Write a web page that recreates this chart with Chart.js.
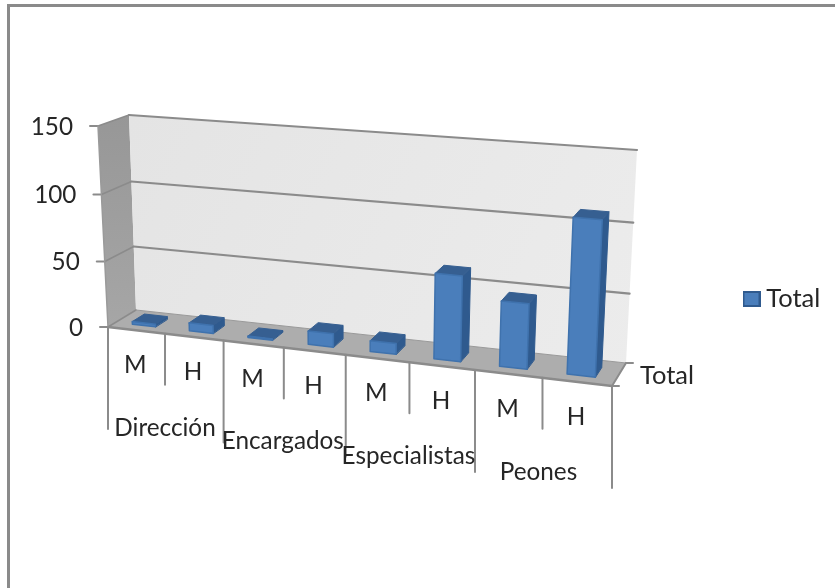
<!DOCTYPE html>
<html>
<head>
<meta charset="utf-8">
<style>html,body{margin:0;padding:0;background:#fff}#wrap{width:835px;height:588px}canvas{display:block}</style>
<script src="https://cdn.jsdelivr.net/npm/chart.js@4"></script>
</head>
<body>
<div id="wrap"><canvas id="c" width="835" height="588"></canvas></div>
<script>
const categories = ['M','H','M','H','M','H','M','H'];
const groupLabels = ['Dirección','Encargados','Especialistas','Peones'];
const totalValues = [2,6,1,10,8,62,47,110];
const seriesName = 'Total';
const yMax = 150, yStep = 50;

const FONT = '24.3px Lato';
const FONT_TOTAL = '25.5px Lato';
const TEXT = '#262626';
const AXIS = '#8b8b8b';
const groupNudge = [0,-1,-1,-4];
const corners = {
  flb:[108,327], flt:[98,126], blb:[136,310], blt:[129,115],
  frb:[612,386], frt:[622,167], brb:[626,363], brt:[637,150]
};
const persp = (t,r)=>t/(t+r*(1-t));
function P(u,v,d){
  const U=persp(u,1.12), V=persp(v,1.035);
  const mix=(a,b,t)=>[a[0]+(b[0]-a[0])*t,a[1]+(b[1]-a[1])*t];
  const c=corners;
  const fb=mix(c.flb,c.frb,U), ft=mix(c.flt,c.frt,U), bb=mix(c.blb,c.brb,U), bt=mix(c.blt,c.brt,U);
  return mix(mix(fb,ft,V),mix(bb,bt,V),d);
}
function poly(ctx,pts,fill,stroke,lw){
  ctx.beginPath();pts.forEach((p,i)=>i?ctx.lineTo(p[0],p[1]):ctx.moveTo(p[0],p[1]));ctx.closePath();
  if(fill){ctx.fillStyle=fill;ctx.fill();}
  if(stroke){ctx.strokeStyle=stroke;ctx.lineWidth=lw||1;ctx.lineJoin='round';ctx.stroke();}
}
function seg(ctx,a,b,col,lw){ctx.beginPath();ctx.moveTo(a[0],a[1]);ctx.lineTo(b[0],b[1]);ctx.strokeStyle=col;ctx.lineWidth=lw;ctx.stroke();}

// legend swatch
const swatch=document.createElement('canvas');swatch.width=18;swatch.height=16;
(function(){const s=swatch.getContext('2d');
  s.fillStyle='#4a7ebb';s.fillRect(1,1,16,14);
  s.strokeStyle='#2f5a8e';s.lineWidth=2;s.strokeRect(1,1,16,14);
})();

const scene3d = {
  id:'scene3d',
  afterLayout(chart){
    const l=chart.legend; const w=l.width,h=l.height;
    l.left=739.5;l.right=739.5+w;l.top=299-h/2;l.bottom=299+h/2;
  },
  beforeDraw(chart){
    const ctx=chart.ctx;
    ctx.save();
    ctx.fillStyle='#fff';ctx.fillRect(0,0,chart.width,chart.height);
    ctx.fillStyle='#8a8a8a';ctx.fillRect(8,4,chart.width-8,3);ctx.fillRect(7,4,3,chart.height-4);
    ctx.restore();
  },
  beforeDatasetsDraw(chart){
    const ctx=chart.ctx, ya=chart.scales.y, xa=chart.scales.x, area=chart.chartArea;
    const vOf=val=>(area.bottom-ya.getPixelForValue(val))/(area.bottom-area.top);
    ctx.save();
    // walls and floor
    const g=ctx.createLinearGradient(0,115,0,327);g.addColorStop(0,'#979797');g.addColorStop(1,'#a6a6a6');
    poly(ctx,[P(0,0,0),P(0,1,0),P(0,1,1),P(0,0,1)],g);
    const b=ctx.createLinearGradient(130,115,637,363);b.addColorStop(0,'#e4e4e4');b.addColorStop(1,'#ececec');
    poly(ctx,[P(0,0,1),P(0,1,1),P(1,1,1),P(1,0,1)],b);
    poly(ctx,[P(0,0,0),P(0,0,1),P(1,0,1),P(1,0,0)],'#adadad');
    // gridlines and value ticks
    ctx.lineCap='round';
    ya.ticks.forEach(t=>{
      const v=vOf(t.value);
      if(t.value>0) seg(ctx,P(0,v,1),P(1,v,1),AXIS,2.2);
      seg(ctx,P(0,v,0),P(0,v,1),AXIS,1.5);
      const a=P(0,v,0); seg(ctx,[a[0]-8,a[1]],a,AXIS,2);
    });
    seg(ctx,P(0,0,0),P(0,1,0),'#9a9a9a',1.5);
    seg(ctx,P(0,0,1),P(1,0,1),'#9a9a9a',1);
    // category axis line and separators
    seg(ctx,P(0,0,0),P(1,0,0),AXIS,2.5);
    seg(ctx,P(1,0,0),P(1,0,1),AXIS,2);
    const fr=P(1,0,0),br=P(1,0,1);
    seg(ctx,fr,[fr[0]+7,fr[1]],AXIS,2);
    seg(ctx,br,[br[0]+7,br[1]],AXIS,2);
    const n=categories.length;
    for(let i=0;i<=n;i++){
      const a=P(i/n,0,0);
      seg(ctx,a,[a[0],a[1]+(i%2?51:102)],AXIS,2);
    }
    // bars: boxes projected from the library's bar elements
    const ds=chart.data.datasets[0];
    chart.getDatasetMeta(0).data.forEach(el=>{
      const p=el.getProps(['x','y','base','width'],true);
      const u0=(p.x-p.width/2-area.left)/(area.right-area.left), u1=(p.x+p.width/2-area.left)/(area.right-area.left);
      const v0=(area.bottom-p.base)/(area.bottom-area.top), v1=(area.bottom-p.y)/(area.bottom-area.top);
      const d0=0.28,d1=0.72;
      poly(ctx,[P(u1,v0,d0),P(u1,v1,d0),P(u1,v1,d1),P(u1,v0,d1)],ds.sideColor,ds.sideColor,1);
      poly(ctx,[P(u0,v1,d0),P(u0,v1,d1),P(u1,v1,d1),P(u1,v1,d0)],ds.topColor,ds.topColor,1);
      poly(ctx,[P(u0,v0,d0),P(u0,v1,d0),P(u1,v1,d0),P(u1,v0,d0)],ds.backgroundColor,ds.borderColor,1.5);
    });
    // text
    ctx.fillStyle=TEXT;ctx.font=FONT;ctx.textBaseline='middle';
    ctx.textAlign='right';
    ya.ticks.forEach(t=>{const a=P(0,vOf(t.value),0);ctx.fillText(t.label,a[0]-25,a[1]+1);});
    ctx.textAlign='center';
    xa.ticks.forEach((t,i)=>{const a=P((i+.5)/n,0,0);ctx.fillText(xa.getLabelForValue(t.value),a[0]-1,a[1]+35);});
    groupLabels.forEach((g,i)=>{const a=P((2*i+1)/n,0,0);ctx.fillText(g,a[0]+groupNudge[i],a[1]+94);});
    ctx.textAlign='left';ctx.font=FONT_TOTAL;
    ctx.fillText(ds.label,br[0]+14,br[1]+13);
    ctx.restore();
    return false;
  }
};

new Chart(document.getElementById('c'),{
  type:'bar',
  data:{labels:categories,datasets:[{
    label:seriesName,data:totalValues,
    backgroundColor:'#4a7ebb',borderColor:'#3f72ad',borderWidth:1.5,
    sideColor:'#2f5a8e',topColor:'#365f91',
    categoryPercentage:1,barPercentage:0.41
  }]},
  options:{
    responsive:false,animation:false,
    layout:{padding:{left:108,top:126,bottom:261,right:0}},
    plugins:{
      tooltip:{enabled:false},
      legend:{display:true,position:'right',labels:{font:{family:'Lato',size:25.5},color:TEXT,usePointStyle:true,pointStyle:swatch,pointStyleWidth:4,boxHeight:15,padding:10}}
    },
    scales:{
      x:{display:false,grid:{display:false}},
      y:{display:false,min:0,max:yMax,ticks:{stepSize:yStep},grid:{display:false}}
    }
  },
  plugins:[scene3d]
});
</script>
</body>
</html>
